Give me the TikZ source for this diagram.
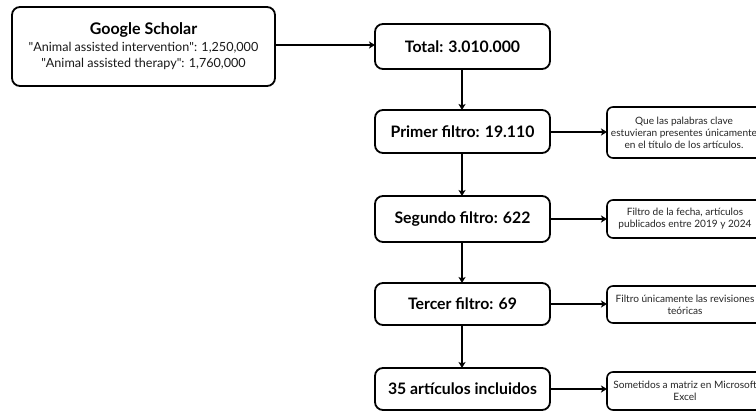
\documentclass[tikz,border=0pt]{standalone}
\usepackage{fontspec}
\setmainfont{Lato}
\usetikzlibrary{arrows.meta}
\begin{document}
\begin{tikzpicture}[x=1pt,y=-1pt,
  mainbox/.style={draw=black,line width=1.8pt,rounded corners=8pt,fill=white},
  sidebox/.style={draw=black,line width=1.6pt,rounded corners=6pt,fill=white},
  bigtxt/.style={font=\fontsize{15.8}{18}\selectfont\bfseries},
  smalltxt/.style={font=\fontsize{10.1}{12}\selectfont,align=center,text=black!85},
  conn/.style={line width=1.6pt,-{Stealth[length=6pt,width=7pt,inset=1.5pt]}}]
\clip (0,0) rectangle (756,412);
\fill[white] (0,0) rectangle (756,412);
% main boxes
\draw[mainbox] (12,7) rectangle (275,86);
\node[font=\fontsize{16}{18}\selectfont\bfseries] (gst) at (143.5,30) {Google Scholar};
\node[font=\fontsize{12.6}{16.5}\selectfont,align=center,text=black!90] (gsl) at (143.5,56) {\textquotedbl Animal assisted intervention\textquotedbl: 1,250,000\\\textquotedbl Animal assisted therapy\textquotedbl: 1,760,000};
\coordinate (gsR) at (275,45);

\draw[mainbox] (375,24) rectangle (550,69);
\node[bigtxt] (tot) at (462.5,46.5) {Total: 3.010.000};
\coordinate (totL) at (375,45);
\coordinate (totB) at (462,69);

\draw[mainbox] (375,110) rectangle (550,153);
\node[bigtxt] (p1) at (462.5,131.5) {Primer filtro: 19.110};
\coordinate (p1T) at (462,110);
\coordinate (p1B) at (462,153);
\coordinate (p1R) at (550,132);

\draw[mainbox] (375,196) rectangle (550,242);
\node[bigtxt] (p2) at (462.5,219) {Segundo filtro: 622};
\coordinate (p2T) at (462,196);
\coordinate (p2B) at (462,242);
\coordinate (p2R) at (550,219);

\draw[mainbox] (375,283) rectangle (550,325);
\node[bigtxt] (p3) at (462.5,304) {Tercer filtro: 69};
\coordinate (p3T) at (462,283);
\coordinate (p3B) at (462,325);
\coordinate (p3R) at (550,304);

\draw[mainbox] (375,368) rectangle (550,410);
\node[bigtxt] (p4) at (462.5,389) {35 artículos incluidos};
\coordinate (p4T) at (462,368);
\coordinate (p4R) at (550,389);

% side boxes
\draw[sidebox] (607,107) rectangle (762,158);
\node[smalltxt] (s1) at (684,132.5) {Que las palabras clave\\estuvieran presentes únicamente\\en el título de los artículos.};
\coordinate (s1L) at (607,132);

\draw[sidebox] (607,200) rectangle (762,238);
\node[smalltxt] (s2) at (685,219) {Filtro de la fecha, artículos\\publicados entre 2019 y 2024};
\coordinate (s2L) at (607,219);

\draw[sidebox] (607,286) rectangle (762,323);
\node[smalltxt] (s3) at (685,304.5) {Filtro únicamente las revisiones\\teóricas};
\coordinate (s3L) at (607,304);

\draw[sidebox] (607,372) rectangle (762,410);
\node[smalltxt] (s4) at (685,391) {Sometidos a matriz en Microsoft\\Excel};
\coordinate (s4L) at (607,389);

% connectors
\draw[conn] (gsR) -- (totL);
\draw[conn] (totB) -- (p1T);
\draw[conn] (p1B) -- (p2T);
\draw[conn] (p2B) -- (p3T);
\draw[conn] (p3B) -- (p4T);
\draw[conn] (p1R) -- (s1L);
\draw[conn] (p2R) -- (s2L);
\draw[conn] (p3R) -- (s3L);
\draw[conn] (p4R) -- (s4L);
\end{tikzpicture}
\end{document}
